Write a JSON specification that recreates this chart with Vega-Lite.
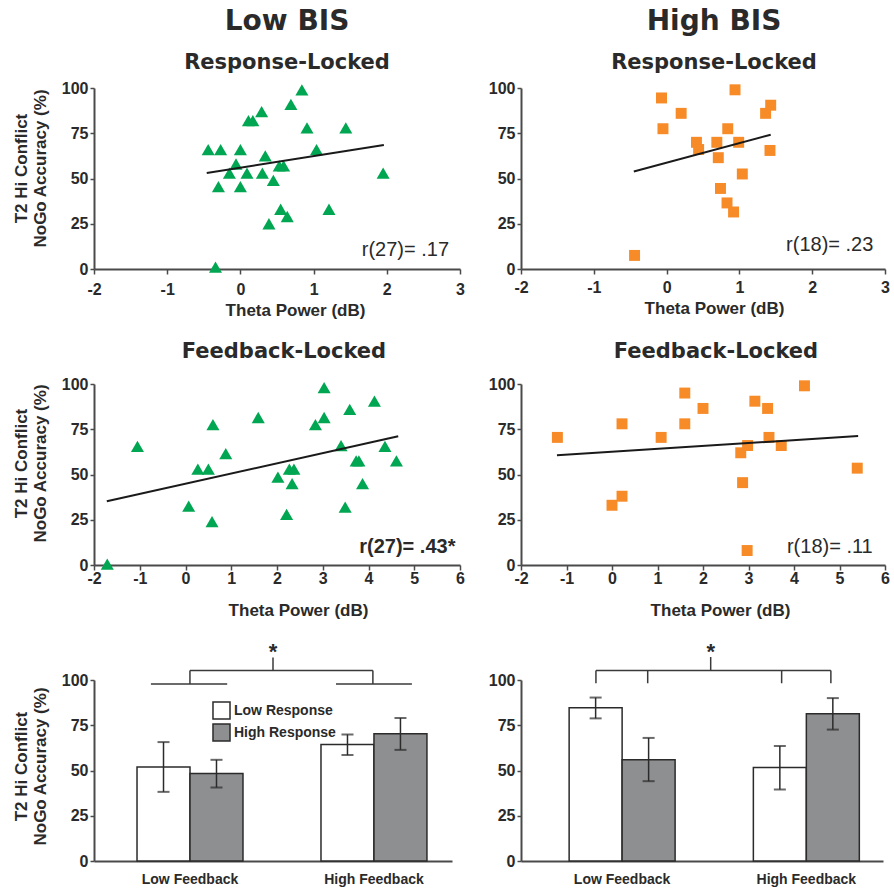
{
  "$schema": "https://vega.github.io/schema/vega-lite/v6.json",
  "padding": {"left": 12, "top": 8, "right": 0, "bottom": 4},
  "background": "white",
  "columns": 2,
  "bounds": "flush",
  "spacing": {"row": 115, "column": 61},
  "resolve": {"scale": {"fill": "independent"}, "legend": {"fill": "independent"}},
  "config": {
    "font": "Liberation Sans",
    "view": {"stroke": null},
    "axis": {
      "grid": false, "domainColor": "#4a4a4a", "domainWidth": 2, "tickColor": "#4a4a4a", "tickWidth": 1.5, "tickSize": 5,
      "labelFont": "Liberation Sans", "labelFontSize": 16, "labelFontWeight": "bold", "labelColor": "#2a2a2a", "labelFlush": false,
      "titleFont": "Liberation Sans", "titleFontSize": 17, "titleFontWeight": "bold", "titleColor": "#2a2a2a"
    },
    "axisY": {"tickSize": 4, "labelPadding": 2},
    "title": {"font": "DejaVu Sans", "fontWeight": "bold", "color": "#2a2a2a", "subtitleFont": "DejaVu Sans", "subtitleFontWeight": "bold", "subtitleColor": "#2a2a2a", "anchor": "middle", "frame": "group"}
  },
  "concat": [
    {
      "width": 366, "height": 181,
      "title": {"text": "Low BIS", "subtitle": "Response-Locked", "fontSize": 28, "subtitleFontSize": 21, "dx": 10, "offset": 7, "subtitlePadding": 15.8},
      "layer": [
        {
          "data": {"values": [
            {"theta": -0.44, "acc": 66}, {"theta": -0.27, "acc": 66}, {"theta": 0.0, "acc": 66}, {"theta": -0.06, "acc": 58},
            {"theta": -0.15, "acc": 53}, {"theta": 0.09, "acc": 53}, {"theta": -0.30, "acc": 45.5}, {"theta": 0.0, "acc": 45.5},
            {"theta": 0.11, "acc": 82}, {"theta": 0.17, "acc": 82}, {"theta": 0.29, "acc": 87}, {"theta": 0.34, "acc": 62.5},
            {"theta": 0.30, "acc": 53}, {"theta": 0.45, "acc": 49}, {"theta": 0.53, "acc": 57}, {"theta": 0.59, "acc": 57},
            {"theta": 0.55, "acc": 33}, {"theta": 0.64, "acc": 29}, {"theta": 0.39, "acc": 25}, {"theta": 0.69, "acc": 91},
            {"theta": 0.84, "acc": 99}, {"theta": 0.91, "acc": 78}, {"theta": 1.04, "acc": 66}, {"theta": 1.44, "acc": 78},
            {"theta": 1.21, "acc": 33}, {"theta": 1.95, "acc": 53}, {"theta": -0.34, "acc": 1}
          ]},
          "mark": {"type": "point", "shape": "triangle-up", "filled": true, "size": 170, "color": "#00a651", "opacity": 1},
          "encoding": {
            "x": {"field": "theta", "type": "quantitative", "scale": {"domain": [-2, 3], "nice": false, "zero": false},
                  "axis": {"title": "Theta Power (dB)", "values": [-2, -1, 0, 1, 2, 3], "labelExpr": "'' + datum.value", "labelPadding": 7, "titlePadding": 5, "titleX": 201}},
            "y": {"field": "acc", "type": "quantitative", "scale": {"domain": [0, 100], "nice": false},
                  "axis": {"title": ["T2 Hi Conflict", "NoGo Accuracy (%)"], "values": [0, 25, 50, 75, 100], "titleX": -63.4, "titleY": 80, "titleLineHeight": 19}}
          }
        },
        {
          "data": {"values": [{"theta": -0.46, "acc": 53}, {"theta": 1.96, "acc": 68.5}]},
          "mark": {"type": "line", "color": "#1a1a1a", "strokeWidth": 2},
          "encoding": {"x": {"field": "theta", "type": "quantitative"}, "y": {"field": "acc", "type": "quantitative"}}
        },
        {
          "data": {"values": [{"theta": 2.85, "acc": 7, "label": "r(27)= .17"}]},
          "mark": {"type": "text", "align": "right", "baseline": "alphabetic", "fontSize": 20, "color": "#2a2a2a"},
          "encoding": {"x": {"field": "theta", "type": "quantitative"}, "y": {"field": "acc", "type": "quantitative"}, "text": {"field": "label"}}
        }
      ]
    },
    {
      "width": 364, "height": 181,
      "title": {"text": "High BIS", "subtitle": "Response-Locked", "fontSize": 28, "subtitleFontSize": 21, "dx": 11, "offset": 7, "subtitlePadding": 15.8},
      "layer": [
        {
          "data": {"values": [
            {"theta": -0.07, "acc": 94.5}, {"theta": -0.05, "acc": 77.5}, {"theta": 0.20, "acc": 86}, {"theta": 0.41, "acc": 70},
            {"theta": 0.44, "acc": 66}, {"theta": 0.69, "acc": 70}, {"theta": 0.71, "acc": 61.5}, {"theta": 0.84, "acc": 77.5},
            {"theta": 0.94, "acc": 99}, {"theta": 0.99, "acc": 70}, {"theta": 1.04, "acc": 52.5}, {"theta": 0.74, "acc": 44.5},
            {"theta": 0.83, "acc": 36.5}, {"theta": 0.92, "acc": 31.5}, {"theta": 1.36, "acc": 86}, {"theta": 1.43, "acc": 90.5},
            {"theta": 1.42, "acc": 65.5}, {"theta": -0.44, "acc": 7.5}
          ]},
          "mark": {"type": "square", "size": 120, "color": "#f68b28", "opacity": 1},
          "encoding": {
            "x": {"field": "theta", "type": "quantitative", "scale": {"domain": [-2, 3], "nice": false, "zero": false},
                  "axis": {"title": "Theta Power (dB)", "values": [-2, -1, 0, 1, 2, 3], "labelExpr": "'' + datum.value", "labelPadding": 5, "titlePadding": 5, "titleX": 193}},
            "y": {"field": "acc", "type": "quantitative", "scale": {"domain": [0, 100], "nice": false},
                  "axis": {"title": null, "values": [0, 25, 50, 75, 100]}}
          }
        },
        {
          "data": {"values": [{"theta": -0.45, "acc": 53.9}, {"theta": 1.43, "acc": 74.2}]},
          "mark": {"type": "line", "color": "#1a1a1a", "strokeWidth": 2},
          "encoding": {"x": {"field": "theta", "type": "quantitative"}, "y": {"field": "acc", "type": "quantitative"}}
        },
        {
          "data": {"values": [{"theta": 2.84, "acc": 9.8, "label": "r(18)= .23"}]},
          "mark": {"type": "text", "align": "right", "baseline": "alphabetic", "fontSize": 20, "color": "#2a2a2a"},
          "encoding": {"x": {"field": "theta", "type": "quantitative"}, "y": {"field": "acc", "type": "quantitative"}, "text": {"field": "label"}}
        }
      ]
    },
    {
      "width": 366, "height": 181,
      "title": {"text": "Feedback-Locked", "fontSize": 21, "dx": 7, "offset": 14},
      "layer": [
        {
          "data": {"values": [
            {"theta": -1.71, "acc": 0.5}, {"theta": -1.05, "acc": 65.5}, {"theta": 0.07, "acc": 32.5}, {"theta": 0.27, "acc": 53},
            {"theta": 0.50, "acc": 53}, {"theta": 0.60, "acc": 77.5}, {"theta": 0.58, "acc": 24}, {"theta": 0.88, "acc": 61.5},
            {"theta": 1.59, "acc": 81.5}, {"theta": 2.02, "acc": 48.5}, {"theta": 2.21, "acc": 28}, {"theta": 2.27, "acc": 53},
            {"theta": 2.37, "acc": 53}, {"theta": 2.33, "acc": 45}, {"theta": 2.84, "acc": 77.5}, {"theta": 3.03, "acc": 98},
            {"theta": 3.03, "acc": 81.5}, {"theta": 3.40, "acc": 66}, {"theta": 3.49, "acc": 32}, {"theta": 3.59, "acc": 86},
            {"theta": 3.73, "acc": 57.5}, {"theta": 3.79, "acc": 57.5}, {"theta": 3.87, "acc": 45}, {"theta": 4.13, "acc": 90.5},
            {"theta": 4.36, "acc": 65.5}, {"theta": 4.61, "acc": 57.5}
          ]},
          "mark": {"type": "point", "shape": "triangle-up", "filled": true, "size": 170, "color": "#00a651", "opacity": 1},
          "encoding": {
            "x": {"field": "theta", "type": "quantitative", "scale": {"domain": [-2, 6], "nice": false, "zero": false},
                  "axis": {"title": "Theta Power (dB)", "values": [-2, -1, 0, 1, 2, 3, 4, 5, 6], "labelExpr": "'' + datum.value", "labelPadding": 0, "titlePadding": 16, "titleX": 204}},
            "y": {"field": "acc", "type": "quantitative", "scale": {"domain": [0, 100], "nice": false},
                  "axis": {"title": ["T2 Hi Conflict", "NoGo Accuracy (%)"], "values": [0, 25, 50, 75, 100], "titleX": -63.4, "titleY": 79, "titleLineHeight": 19}}
          }
        },
        {
          "data": {"values": [{"theta": -1.72, "acc": 35.2}, {"theta": 4.65, "acc": 71.1}]},
          "mark": {"type": "line", "color": "#1a1a1a", "strokeWidth": 2},
          "encoding": {"x": {"field": "theta", "type": "quantitative"}, "y": {"field": "acc", "type": "quantitative"}}
        },
        {
          "data": {"values": [{"theta": 5.9, "acc": 6.5, "label": "r(27)= .43*"}]},
          "mark": {"type": "text", "align": "right", "baseline": "alphabetic", "fontSize": 20, "fontWeight": "bold", "color": "#2a2a2a"},
          "encoding": {"x": {"field": "theta", "type": "quantitative"}, "y": {"field": "acc", "type": "quantitative"}, "text": {"field": "label"}}
        }
      ]
    },
    {
      "width": 364, "height": 181,
      "title": {"text": "Feedback-Locked", "fontSize": 21, "dx": 13, "offset": 14},
      "layer": [
        {
          "data": {"values": [
            {"theta": -1.20, "acc": 70.5}, {"theta": 0.0, "acc": 33}, {"theta": 0.22, "acc": 38}, {"theta": 0.22, "acc": 78},
            {"theta": 1.08, "acc": 70.5}, {"theta": 1.60, "acc": 95}, {"theta": 1.60, "acc": 78}, {"theta": 2.0, "acc": 86.5},
            {"theta": 2.83, "acc": 62}, {"theta": 2.87, "acc": 45.5}, {"theta": 2.98, "acc": 66}, {"theta": 2.97, "acc": 8},
            {"theta": 3.14, "acc": 90.5}, {"theta": 3.42, "acc": 86.5}, {"theta": 3.45, "acc": 70.5}, {"theta": 3.72, "acc": 66},
            {"theta": 4.23, "acc": 99}, {"theta": 5.39, "acc": 53.5}
          ]},
          "mark": {"type": "square", "size": 120, "color": "#f68b28", "opacity": 1},
          "encoding": {
            "x": {"field": "theta", "type": "quantitative", "scale": {"domain": [-2, 6], "nice": false, "zero": false},
                  "axis": {"title": "Theta Power (dB)", "values": [-2, -1, 0, 1, 2, 3, 4, 5, 6], "labelExpr": "'' + datum.value", "labelPadding": 0, "titlePadding": 16, "titleX": 199}},
            "y": {"field": "acc", "type": "quantitative", "scale": {"domain": [0, 100], "nice": false},
                  "axis": {"title": null, "values": [0, 25, 50, 75, 100]}}
          }
        },
        {
          "data": {"values": [{"theta": -1.21, "acc": 60.6}, {"theta": 5.41, "acc": 71.3}]},
          "mark": {"type": "line", "color": "#1a1a1a", "strokeWidth": 2},
          "encoding": {"x": {"field": "theta", "type": "quantitative"}, "y": {"field": "acc", "type": "quantitative"}}
        },
        {
          "data": {"values": [{"theta": 5.73, "acc": 6.5, "label": "r(18)= .11"}]},
          "mark": {"type": "text", "align": "right", "baseline": "alphabetic", "fontSize": 20, "color": "#2a2a2a"},
          "encoding": {"x": {"field": "theta", "type": "quantitative"}, "y": {"field": "acc", "type": "quantitative"}, "text": {"field": "label"}}
        }
      ]
    },
    {
      "width": 358, "height": 181,
      "resolve": {"scale": {"x": "independent"}, "axis": {"x": "independent"}},
      "layer": [
        {
          "data": {"values": [
            {"feedback": "Low Feedback", "response": "Low Response", "mean": 52.0, "lo": 38.2, "hi": 65.7},
            {"feedback": "Low Feedback", "response": "High Response", "mean": 48.3, "lo": 40.6, "hi": 55.9},
            {"feedback": "High Feedback", "response": "Low Response", "mean": 64.4, "lo": 58.5, "hi": 69.9},
            {"feedback": "High Feedback", "response": "High Response", "mean": 70.3, "lo": 61.4, "hi": 79.0}
          ]},
          "layer": [
            {
              "mark": {"type": "bar", "stroke": "#2b2b2b", "strokeWidth": 1.5},
              "encoding": {
                "x": {"field": "feedback", "type": "nominal", "sort": ["Low Feedback", "High Feedback"],
                      "scale": {"domain": ["Low Feedback", "High Feedback"], "paddingInner": 0.424, "paddingOuter": 0.185, "align": 0.632},
                      "axis": {"title": null, "ticks": false, "labelAngle": 0, "labelFontSize": 14, "labelPadding": 11}},
                "xOffset": {"field": "response", "type": "nominal", "scale": {"domain": ["Low Response", "High Response"], "paddingInner": 0, "paddingOuter": 0}},
                "y": {"field": "mean", "type": "quantitative", "scale": {"domain": [0, 100], "nice": false},
                      "axis": {"title": ["T2 Hi Conflict", "NoGo Accuracy (%)"], "values": [0, 25, 50, 75, 100], "titleX": -63.4, "titleY": 86, "titleLineHeight": 19}},
                "fill": {"field": "response", "type": "nominal", "scale": {"domain": ["Low Response", "High Response"], "range": ["#ffffff", "#8e8f91"]},
                         "legend": {"orient": "none", "legendX": 118, "legendY": 21, "title": null, "symbolType": "square", "symbolSize": 290,
                                    "symbolStrokeColor": "#2b2b2b", "symbolStrokeWidth": 1.5, "labelFontSize": 14, "labelFontWeight": "bold",
                                    "labelColor": "#2a2a2a", "labelFont": "Liberation Sans", "rowPadding": -3.5, "labelOffset": 3}}
              }
            },
            {"mark": {"type": "rule", "color": "#2b2b2b", "strokeWidth": 1.5},
             "encoding": {"x": {"field": "feedback", "type": "nominal"}, "xOffset": {"field": "response", "type": "nominal"},
                          "y": {"field": "lo", "type": "quantitative", "scale": {"domain": [0, 100]}}, "y2": {"field": "hi"}}},
            {"mark": {"type": "tick", "color": "#2b2b2b", "size": 12, "thickness": 2},
             "encoding": {"x": {"field": "feedback", "type": "nominal"}, "xOffset": {"field": "response", "type": "nominal"},
                          "y": {"field": "lo", "type": "quantitative", "scale": {"domain": [0, 100]}}}},
            {"mark": {"type": "tick", "color": "#2b2b2b", "size": 12, "thickness": 2},
             "encoding": {"x": {"field": "feedback", "type": "nominal"}, "xOffset": {"field": "response", "type": "nominal"},
                          "y": {"field": "hi", "type": "quantitative", "scale": {"domain": [0, 100]}}}}
          ]
        },
        {
          "layer": [
            {
              "data": {"values": [
                {"x1": 1.59, "x2": 3.72, "y1": 97.8, "y2": 97.8}, {"x1": 2.68, "x2": 2.68, "y1": 97.8, "y2": 105.2},
                {"x1": 2.68, "x2": 7.79, "y1": 105.2, "y2": 105.2}, {"x1": 7.79, "x2": 7.79, "y1": 97.8, "y2": 105.2},
                {"x1": 6.76, "x2": 8.88, "y1": 97.8, "y2": 97.8}, {"x1": 5.0, "x2": 5.0, "y1": 105.2, "y2": 112.5}
              ]},
              "mark": {"type": "rule", "color": "#3a3a3a", "strokeWidth": 1.5},
              "encoding": {
                "x": {"field": "x1", "type": "quantitative", "scale": {"domain": [0, 10], "nice": false, "zero": false}, "axis": null},
                "x2": {"field": "x2"},
                "y": {"field": "y1", "type": "quantitative", "scale": {"domain": [0, 100]}},
                "y2": {"field": "y2"}
              }
            },
            {
              "data": {"values": [{"x1": 5.0, "y1": 115.5, "label": "*"}]},
              "mark": {"type": "text", "fontSize": 22, "fontWeight": "bold", "baseline": "middle", "color": "#2a2a2a"},
              "encoding": {
                "x": {"field": "x1", "type": "quantitative", "scale": {"domain": [0, 10], "nice": false, "zero": false}, "axis": null},
                "y": {"field": "y1", "type": "quantitative", "scale": {"domain": [0, 100]}},
                "text": {"field": "label"}
              }
            }
          ]
        }
      ]
    },
    {
      "width": 362, "height": 181,
      "resolve": {"scale": {"x": "independent"}, "axis": {"x": "independent"}},
      "layer": [
        {
          "data": {"values": [
            {"feedback": "Low Feedback", "response": "Low Response", "mean": 84.7, "lo": 78.8, "hi": 90.3},
            {"feedback": "Low Feedback", "response": "High Response", "mean": 55.9, "lo": 44.1, "hi": 68.0},
            {"feedback": "High Feedback", "response": "Low Response", "mean": 51.6, "lo": 39.5, "hi": 63.5},
            {"feedback": "High Feedback", "response": "High Response", "mean": 81.4, "lo": 72.6, "hi": 90.0}
          ]},
          "layer": [
            {
              "mark": {"type": "bar", "stroke": "#2b2b2b", "strokeWidth": 1.5},
              "encoding": {
                "x": {"field": "feedback", "type": "nominal", "sort": ["Low Feedback", "High Feedback"],
                      "scale": {"domain": ["Low Feedback", "High Feedback"], "paddingInner": 0.425, "paddingOuter": 0.195, "align": 0.67},
                      "axis": {"title": null, "ticks": false, "labelAngle": 0, "labelFontSize": 14, "labelPadding": 11}},
                "xOffset": {"field": "response", "type": "nominal", "scale": {"domain": ["Low Response", "High Response"], "paddingInner": 0, "paddingOuter": 0}},
                "y": {"field": "mean", "type": "quantitative", "scale": {"domain": [0, 100], "nice": false},
                      "axis": {"title": null, "values": [0, 25, 50, 75, 100]}},
                "fill": {"field": "response", "type": "nominal", "scale": {"domain": ["Low Response", "High Response"], "range": ["#ffffff", "#8e8f91"]}, "legend": null}
              }
            },
            {"mark": {"type": "rule", "color": "#2b2b2b", "strokeWidth": 1.5},
             "encoding": {"x": {"field": "feedback", "type": "nominal"}, "xOffset": {"field": "response", "type": "nominal"},
                          "y": {"field": "lo", "type": "quantitative", "scale": {"domain": [0, 100]}}, "y2": {"field": "hi"}}},
            {"mark": {"type": "tick", "color": "#2b2b2b", "size": 12, "thickness": 2},
             "encoding": {"x": {"field": "feedback", "type": "nominal"}, "xOffset": {"field": "response", "type": "nominal"},
                          "y": {"field": "lo", "type": "quantitative", "scale": {"domain": [0, 100]}}}},
            {"mark": {"type": "tick", "color": "#2b2b2b", "size": 12, "thickness": 2},
             "encoding": {"x": {"field": "feedback", "type": "nominal"}, "xOffset": {"field": "response", "type": "nominal"},
                          "y": {"field": "hi", "type": "quantitative", "scale": {"domain": [0, 100]}}}}
          ]
        },
        {
          "layer": [
            {
              "data": {"values": [
                {"x1": 2.07, "x2": 8.56, "y1": 105.2, "y2": 105.2}, {"x1": 2.07, "x2": 2.07, "y1": 98.2, "y2": 105.2},
                {"x1": 3.50, "x2": 3.50, "y1": 98.2, "y2": 105.2}, {"x1": 7.2, "x2": 7.2, "y1": 98.2, "y2": 105.2},
                {"x1": 8.56, "x2": 8.56, "y1": 98.2, "y2": 105.2}, {"x1": 5.24, "x2": 5.24, "y1": 105.2, "y2": 112.7}
              ]},
              "mark": {"type": "rule", "color": "#3a3a3a", "strokeWidth": 1.5},
              "encoding": {
                "x": {"field": "x1", "type": "quantitative", "scale": {"domain": [0, 10], "nice": false, "zero": false}, "axis": null},
                "x2": {"field": "x2"},
                "y": {"field": "y1", "type": "quantitative", "scale": {"domain": [0, 100]}},
                "y2": {"field": "y2"}
              }
            },
            {
              "data": {"values": [{"x1": 5.24, "y1": 115.5, "label": "*"}]},
              "mark": {"type": "text", "fontSize": 22, "fontWeight": "bold", "baseline": "middle", "color": "#2a2a2a"},
              "encoding": {
                "x": {"field": "x1", "type": "quantitative", "scale": {"domain": [0, 10], "nice": false, "zero": false}, "axis": null},
                "y": {"field": "y1", "type": "quantitative", "scale": {"domain": [0, 100]}},
                "text": {"field": "label"}
              }
            }
          ]
        }
      ]
    }
  ]
}
